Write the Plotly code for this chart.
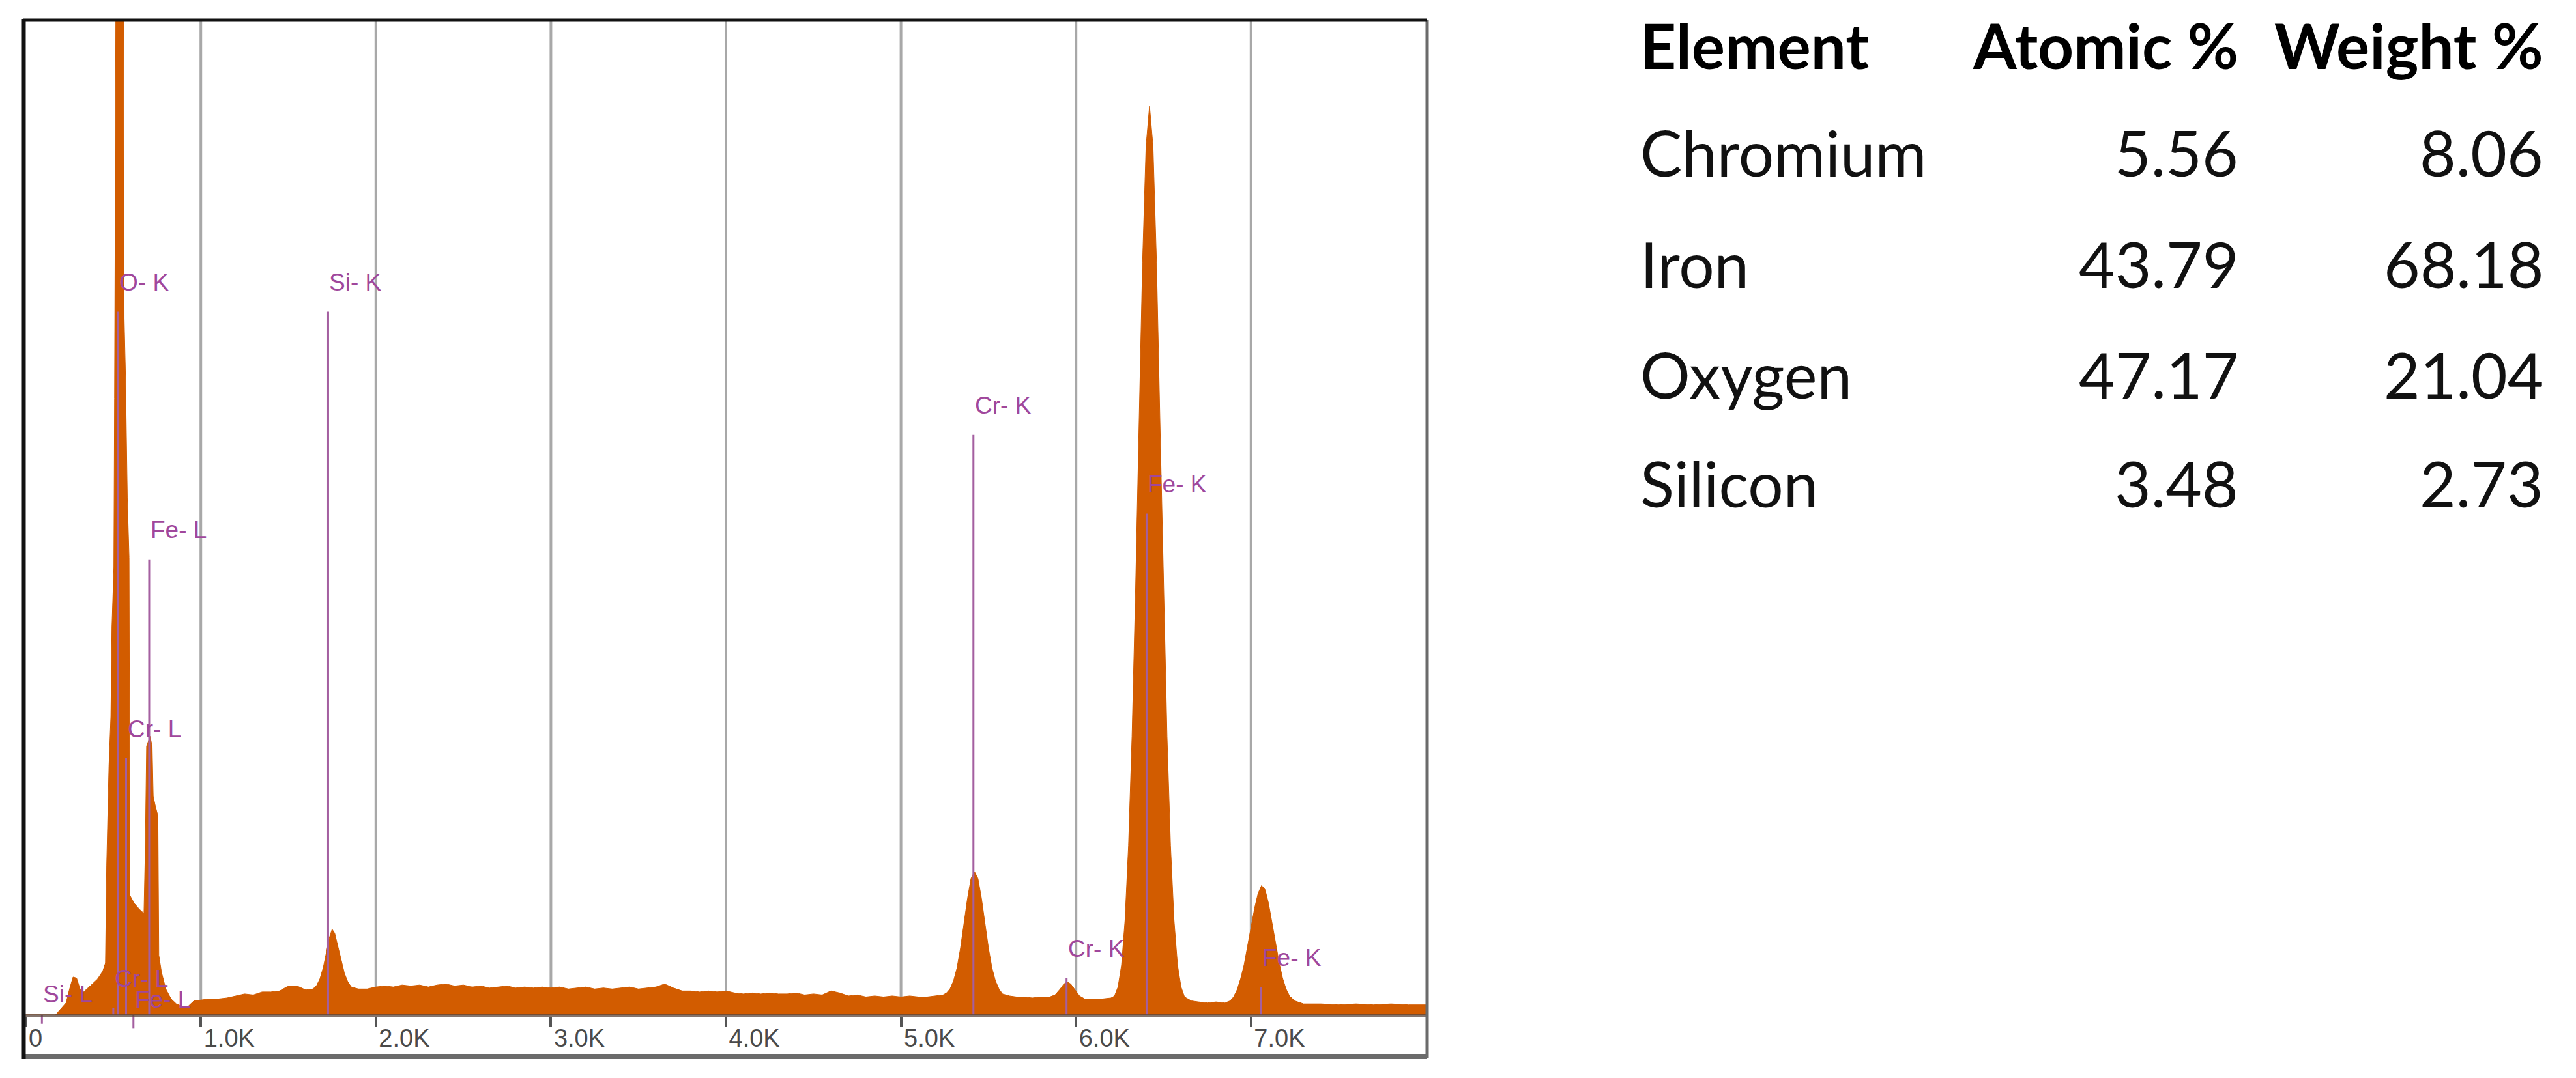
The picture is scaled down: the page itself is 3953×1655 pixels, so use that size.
import plotly.graph_objects as go

W, H = 3953, 1655          # browser window
OFF = 8                    # default body margin of the page
WF, HF = W - 2 * OFF, H - 2 * OFF

# ---------------- data ----------------
# EDS spectrum: energy (keV) and intensity (% of full vertical scale)
energy_kev = [
    0.00, 0.17, 0.20, 0.23, 0.25, 0.27, 0.29, 0.31, 0.33, 0.35, 0.38, 0.41, 0.44,
    0.455, 0.462, 0.475, 0.486, 0.492, 0.503, 0.507, 0.512, 0.525, 0.545, 0.558,
    0.562, 0.57, 0.58, 0.59, 0.595, 0.62, 0.65, 0.675, 0.683, 0.69, 0.71, 0.722,
    0.728, 0.74, 0.755, 0.76, 0.775, 0.80, 0.83, 0.86, 0.90, 0.93, 0.96,
    1.00, 1.05, 1.10, 1.15, 1.20, 1.25, 1.30, 1.35, 1.40, 1.45, 1.50, 1.55, 1.60,
    1.64, 1.66, 1.68, 1.70, 1.72, 1.735, 1.75, 1.765, 1.78, 1.80, 1.82, 1.84, 1.86,
    1.90, 1.95, 2.00, 2.05, 2.10, 2.15, 2.20, 2.25, 2.30, 2.35, 2.40, 2.45, 2.50,
    2.55, 2.60, 2.65, 2.70, 2.75, 2.80, 2.85, 2.90, 2.95, 3.00, 3.05, 3.10, 3.15,
    3.20, 3.25, 3.30, 3.35, 3.40, 3.45, 3.50, 3.55, 3.60, 3.65, 3.70, 3.75, 3.80,
    3.85, 3.90, 3.95, 4.00, 4.05, 4.10, 4.15, 4.20, 4.25, 4.30, 4.35, 4.40, 4.45,
    4.50, 4.55, 4.60, 4.65, 4.70, 4.75, 4.80, 4.85, 4.90, 4.95, 5.00, 5.05, 5.10,
    5.15, 5.20, 5.24, 5.26, 5.28, 5.30, 5.32, 5.34, 5.36, 5.38, 5.40, 5.42, 5.44,
    5.46, 5.48, 5.50, 5.52, 5.54, 5.56, 5.58, 5.62, 5.66, 5.70, 5.75, 5.80, 5.85,
    5.88, 5.91, 5.93, 5.95, 5.97, 5.99, 6.02, 6.05, 6.10, 6.15, 6.20, 6.22, 6.24,
    6.26, 6.28, 6.30, 6.32, 6.34, 6.36, 6.38, 6.40, 6.42, 6.44, 6.46, 6.48, 6.50,
    6.52, 6.54, 6.56, 6.58, 6.60, 6.62, 6.66, 6.70, 6.75, 6.80, 6.85, 6.88, 6.90,
    6.92, 6.94, 6.96, 6.98, 7.00, 7.02, 7.04, 7.06, 7.08, 7.10, 7.12, 7.14, 7.16,
    7.18, 7.20, 7.22, 7.25, 7.30, 7.40, 7.50, 7.60, 7.70, 7.80, 7.90, 8.00,
]
counts_pct = [
    0.0, 0.0, 0.6, 1.2, 2.6, 3.8, 3.7, 2.6, 2.3, 2.6, 3.1, 3.6, 4.4,
    5.2, 15.0, 25.0, 30.0, 39.0, 45.0, 62.0, 105.0, 158.0, 120.0, 100.0,
    70.0, 64.0, 52.0, 46.0, 12.0, 11.2, 10.6, 10.2, 17.0, 27.0, 28.0, 27.0,
    22.0, 21.0, 20.0, 6.0, 4.3, 2.6, 1.6, 1.1, 0.8, 0.9, 1.4,
    1.5, 1.6, 1.6, 1.7, 1.9, 2.1, 2.0, 2.3, 2.3, 2.4, 2.9, 2.9, 2.5,
    2.6, 2.9, 3.6, 4.8, 6.5, 7.8, 8.6, 8.2, 7.1, 5.6, 4.2, 3.3, 2.8,
    2.6, 2.6, 2.8, 2.9, 2.8, 3.0, 2.9, 3.0, 2.8, 3.0, 3.1, 2.9, 3.0,
    2.8, 2.9, 2.7, 2.8, 2.9, 2.7, 2.8, 2.7, 2.8, 2.7, 2.8, 2.6, 2.7,
    2.8, 2.6, 2.7, 2.6, 2.7, 2.8, 2.6, 2.7, 2.8, 3.1, 2.7, 2.4, 2.4,
    2.3, 2.4, 2.3, 2.4, 2.2, 2.1, 2.2, 2.1, 2.2, 2.1, 2.1, 2.2, 2.0,
    2.1, 2.0, 2.4, 2.2, 1.9, 2.0, 1.8, 1.9, 1.8, 1.9, 1.8, 1.9, 1.8,
    1.8, 1.9, 2.0, 2.2, 2.6, 3.4, 4.7, 6.7, 9.2, 11.7, 13.7, 14.4, 13.7,
    11.7, 9.2, 6.7, 4.7, 3.4, 2.6, 2.1, 1.9, 1.8, 1.8, 1.7, 1.8, 1.8,
    2.0, 2.6, 3.1, 3.3, 3.1, 2.6, 1.9, 1.6, 1.6, 1.6, 1.7, 1.9, 2.8,
    5.0, 9.5, 17.0, 28.0, 42.6, 59.3, 75.6, 87.3, 91.4, 87.3, 75.6, 59.3, 42.6,
    28.0, 17.0, 9.5, 5.0, 2.8, 1.8, 1.4, 1.3, 1.2, 1.3, 1.2, 1.4, 1.8,
    2.5, 3.6, 5.0, 6.8, 8.8, 10.7, 12.2, 13.0, 12.6, 11.2, 9.3, 7.2, 5.3,
    3.7, 2.6, 1.9, 1.4, 1.1, 1.1, 1.0, 1.1, 1.0, 1.1, 1.0, 1.0,
]

# element marker lines: label, energy (keV), marker height (% of scale)
line_labels = ["Si- L", "O- K", "Cr- L", "Cr- L", "Fe- L", "Fe- L",
               "Si- K", "Cr- K", "Cr- K", "Fe- K", "Fe- K"]
line_kev = [0.092, 0.525, 0.500, 0.573, 0.615, 0.705,
            1.727, 5.414, 5.946, 6.403, 7.057]
line_top = [-0.9, 70.7, 0.7, 25.8, -1.4, 45.8,
            70.7, 58.3, 3.7, 50.4, 2.8]

grid_kev = [1, 2, 3, 4, 5, 6, 7]
tick_kev = [0, 1, 2, 3, 4, 5, 6, 7]
tick_text = ["0", "1.0K", "2.0K", "3.0K", "4.0K", "5.0K", "6.0K", "7.0K"]

table_header = ["Element", "Atomic %", "Weight %"]
elements = ["Chromium", "Iron", "Oxygen", "Silicon"]
atomic_pct = ["5.56", "43.79", "47.17", "3.48"]
weight_pct = ["8.06", "68.18", "21.04", "2.73"]

# ---------------- layout geometry (window pixels) ----------------
PL, PR, PT, BASE, PB = 36, 2190, 31, 1558, 1622
PX_PER_KEV, KEV0_PX = 268.6, 39.6
PX_PER_UNIT = (BASE - PT) / 100.0
x_range = [(PL - KEV0_PX) / PX_PER_KEV, (PR - KEV0_PX) / PX_PER_KEV]
y_range = [-(PB - BASE) / PX_PER_UNIT, 100.0]


def px(x):
    return (x - OFF) / WF


def py(y):
    return 1 - (y - OFF) / HF


LABEL_OFFSET = 45 / PX_PER_UNIT
SPEC = "#d25c00"
PURPLE_LINE = "#a45fa0"
PURPLE_TEXT = "#a0479c"

fig = go.Figure()

fig.add_trace(go.Scatter(
    x=energy_kev, y=counts_pct, mode="lines", fill="tozeroy",
    fillcolor=SPEC, line=dict(color=SPEC, width=1), hoverinfo="skip",
    showlegend=False))

for lab, e, h in zip(line_labels, line_kev, line_top):
    fig.add_trace(go.Scatter(
        x=[e, e], y=[0, h], mode="lines",
        line=dict(color=PURPLE_LINE, width=3), hoverinfo="skip",
        showlegend=False))
    fig.add_annotation(
        x=e, y=h + LABEL_OFFSET, xref="x", yref="y", text=lab,
        showarrow=False, xanchor="left", yanchor="middle",
        font=dict(family="Liberation Sans, Arial, sans-serif", size=37,
                  color=PURPLE_TEXT))

shapes = []
for g in grid_kev:
    shapes.append(dict(type="line", xref="x", yref="y", x0=g, x1=g, y0=0,
                       y1=100, layer="below",
                       line=dict(color="#a8a8a8", width=4)))
# frame
shapes += [
    dict(type="line", xref="paper", yref="paper", x0=px(PL), x1=px(PR),
         y0=py(PB), y1=py(PB), line=dict(color="#6b6b6b", width=8)),
    dict(type="line", xref="paper", yref="paper", x0=px(PR), x1=px(PR),
         y0=py(PT), y1=py(PB + 3), line=dict(color="#6b6b6b", width=5)),
    dict(type="line", xref="paper", yref="paper", x0=px(PL), x1=px(PR),
         y0=py(PT), y1=py(PT), line=dict(color="#111111", width=5)),
    dict(type="line", xref="paper", yref="paper", x0=px(PL), x1=px(PL),
         y0=py(PT - 2), y1=py(PB + 4), line=dict(color="#111111", width=7)),
]

# table
TFONT = "Lato, Carlito, Calibri, sans-serif"
col_x = [2515, 3437, 3905]
row_mid = [69, 234, 405, 574, 742]
TSIZE = 96
for j, txt in enumerate(table_header):
    fig.add_annotation(
        x=px(col_x[j]), y=py(row_mid[0]), xref="paper", yref="paper",
        text="<b>" + txt + "</b>", showarrow=False,
        xanchor="left" if j == 0 else "right", yanchor="middle",
        font=dict(family=TFONT, size=TSIZE, color="#000000"))
for i, (el, a, w) in enumerate(zip(elements, atomic_pct, weight_pct)):
    for j, txt in enumerate([el, a, w]):
        fig.add_annotation(
            x=px(col_x[j]), y=py(row_mid[i + 1]), xref="paper", yref="paper",
            text=txt, showarrow=False,
            xanchor="left" if j == 0 else "right", yanchor="middle",
            font=dict(family=TFONT, size=TSIZE, color="#111111"))

fig.update_layout(
    width=WF, height=HF, margin=dict(l=0, r=0, t=0, b=0),
    paper_bgcolor="white", plot_bgcolor="white", shapes=shapes,
    showlegend=False,
    xaxis=dict(domain=[px(PL), px(PR)], range=x_range, anchor="free",
               position=py(BASE), showgrid=False, zeroline=False,
               showline=True, linecolor="rgba(90,70,60,0.75)", linewidth=5,
               tickmode="array", tickvals=tick_kev, ticktext=tick_text,
               ticks="outside", ticklen=16, tickwidth=4, tickcolor="#555555",
               ticklabelposition="outside right",
               tickfont=dict(family="Liberation Sans, Arial, sans-serif",
                             size=38, color="#4a4a4a")),
    yaxis=dict(domain=[py(PB), py(PT)], range=y_range, showgrid=False,
               zeroline=False, showline=False, showticklabels=False,
               ticks=""),
)

fig.write_html("out.html")
